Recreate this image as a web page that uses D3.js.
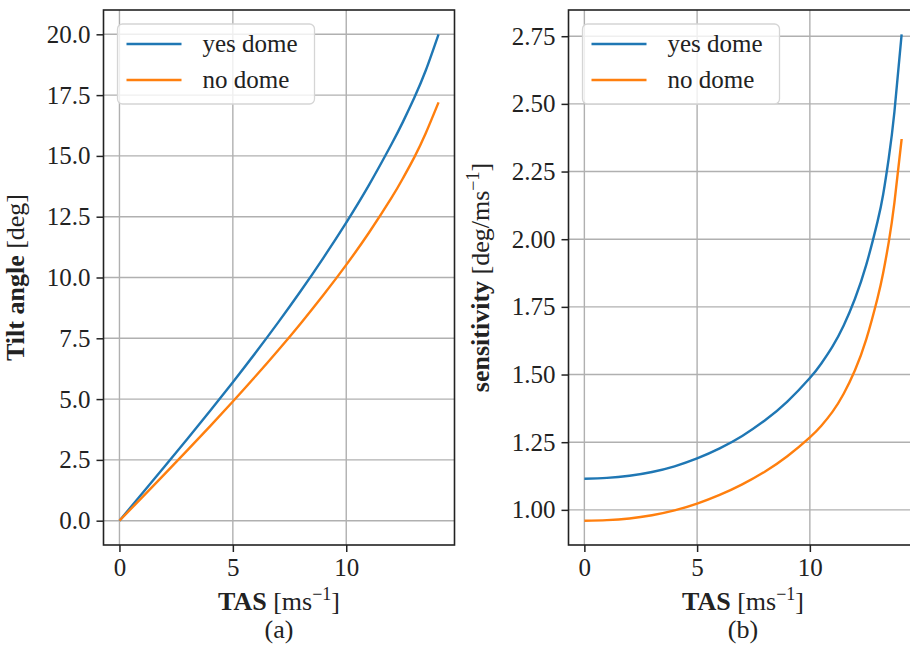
<!DOCTYPE html>
<html>
<head>
<meta charset="utf-8">
<script src="https://cdn.jsdelivr.net/npm/d3@7"></script>
<style>
  html, body { margin: 0; padding: 0; background: #fff; }
  svg { display: block; }
  text { font-family: "Liberation Serif", "DejaVu Serif", serif; fill: #222; }
</style>
</head>
<body>
<svg id="chart" width="910" height="648"></svg>
<script>
// ---------------- DATA ----------------
const seriesNames = ["yes dome", "no dome"];
const seriesColors = ["#1f77b4", "#ff7f0e"];

// (a) tilt angle vs TAS
const tasTilt = [0, 1, 2, 3, 4, 5, 6, 7, 8, 9, 10, 11, 12, 12.5, 13, 13.5, 14.07];
const tiltYesDome = [0, 1.116, 2.238, 3.371, 4.521, 5.696, 6.904, 8.154, 9.454, 10.82, 12.26, 13.80, 15.49, 16.40, 17.39, 18.50, 20.0];
const tiltNoDome  = [0, 0.961, 1.926, 2.90, 3.889, 4.899, 5.936, 7.008, 8.123, 9.29, 10.52, 11.84, 13.28, 14.08, 14.94, 15.92, 17.2];

// (b) sensitivity vs TAS
const tasSens = [0, 1, 2, 3, 4, 5, 6, 7, 8, 9, 10, 10.5, 11, 11.5, 12, 12.5, 13, 13.25, 13.5, 13.75, 14.07];
const sensYesDome = [1.115, 1.118, 1.126, 1.140, 1.161, 1.190, 1.227, 1.273, 1.330, 1.400, 1.487, 1.540, 1.603, 1.681, 1.780, 1.905, 2.065, 2.165, 2.30, 2.47, 2.757];
const sensNoDome  = [0.960, 0.962, 0.968, 0.980, 0.998, 1.023, 1.055, 1.094, 1.141, 1.198, 1.268, 1.310, 1.362, 1.429, 1.516, 1.630, 1.782, 1.875, 1.990, 2.135, 2.37];

const xTicks = [0, 5, 10];
const tiltTicks = [0, 2.5, 5, 7.5, 10, 12.5, 15, 17.5, 20];
const sensTicks = [1.0, 1.25, 1.5, 1.75, 2.0, 2.25, 2.5, 2.75];

// ---------------- DRAW ----------------
const svg = d3.select("#chart");
const FS = 25;

function padDomain(lo, hi) { const p = (hi - lo) * 0.05; return [lo - p, hi + p]; }

function panel(opts) {
  const { left, right, top, bottom, xs, ys, yTicks, yFmt, yLabelBold, yLabelRest, yLabelSup, yLabelEnd, yLabelX, caption } = opts;
  const xAll = xs.flat(), yAll = ys.flat();
  const x = d3.scaleLinear().domain(padDomain(d3.min(xAll), d3.max(xAll))).range([left, right]);
  const y = d3.scaleLinear().domain(padDomain(d3.min(yAll), d3.max(yAll))).range([bottom, top]);
  const g = svg.append("g");

  // grid
  g.append("g").selectAll("line").data(xTicks).join("line")
    .attr("x1", d => x(d)).attr("x2", d => x(d)).attr("y1", top).attr("y2", bottom)
    .attr("stroke", "#b0b0b0").attr("stroke-width", 1.4);
  g.append("g").selectAll("line").data(yTicks).join("line")
    .attr("x1", left).attr("x2", right).attr("y1", d => y(d)).attr("y2", d => y(d))
    .attr("stroke", "#b0b0b0").attr("stroke-width", 1.4);

  // lines
  const line = d3.line().x(d => x(d[0])).y(d => y(d[1])).curve(d3.curveNatural);
  xs.forEach((xv, i) => {
    g.append("path").datum(xv.map((v, k) => [v, ys[i][k]]))
      .attr("d", line).attr("fill", "none").attr("stroke", seriesColors[i]).attr("stroke-width", 2.4);
  });

  // axes
  const xAxis = d3.axisBottom(x).tickValues(xTicks).tickFormat(d3.format("d")).tickSize(7).tickPadding(6);
  const yAxis = d3.axisLeft(y).tickValues(yTicks).tickFormat(d3.format(yFmt)).tickSize(7).tickPadding(6);
  const gx = g.append("g").attr("transform", `translate(0,${bottom})`).call(xAxis);
  const gy = g.append("g").attr("transform", `translate(${left},0)`).call(yAxis);
  [gx, gy].forEach(a => {
    a.select(".domain").remove();
    a.selectAll(".tick line").attr("stroke", "#222").attr("stroke-width", 1.5);
    a.selectAll(".tick text").style("font-size", FS + "px").attr("fill", "#222")
      .style("font-family", '"Liberation Serif", serif');
  });

  // frame
  g.append("rect").attr("x", left).attr("y", top).attr("width", right - left).attr("height", bottom - top)
    .attr("fill", "none").attr("stroke", "#222").attr("stroke-width", 1.6);

  // x label
  const cx = (left + right) / 2;
  const xl = g.append("text").attr("x", cx).attr("y", 610).attr("text-anchor", "middle").style("font-size", "26px");
  xl.append("tspan").attr("font-weight", "bold").text("TAS");
  xl.append("tspan").text(" [ms");
  xl.append("tspan").attr("dy", -10).style("font-size", "18px").text("−1");
  xl.append("tspan").attr("dy", 10).text("]");
  g.append("text").attr("x", cx).attr("y", 638).attr("text-anchor", "middle").style("font-size", "26px").text(caption);

  // y label
  const cy = (top + bottom) / 2;
  const yl = g.append("text").attr("transform", `translate(${yLabelX},${cy}) rotate(-90)`)
    .attr("text-anchor", "middle").style("font-size", "26px");
  yl.append("tspan").attr("font-weight", "bold").text(yLabelBold);
  yl.append("tspan").text(yLabelRest);
  if (yLabelSup) {
    yl.append("tspan").attr("dy", -10).style("font-size", "18px").text(yLabelSup);
    yl.append("tspan").attr("dy", 10).text(yLabelEnd);
  }

  // legend
  const lx = left + 14, ly = top + 14, lw = 197, lh = 80;
  const lg = g.append("g");
  lg.append("rect").attr("x", lx).attr("y", ly).attr("width", lw).attr("height", lh).attr("rx", 5)
    .attr("fill", "white").attr("fill-opacity", 0.8).attr("stroke", "#d5d5d5").attr("stroke-width", 1.3);
  seriesNames.forEach((nm, i) => {
    const yy = ly + 20 + i * 36;
    lg.append("line").attr("x1", lx + 9).attr("x2", lx + 64).attr("y1", yy).attr("y2", yy)
      .attr("stroke", seriesColors[i]).attr("stroke-width", 2.4);
    lg.append("text").attr("x", lx + 85).attr("y", yy + 8).style("font-size", FS + "px").text(nm);
  });
}

panel({
  left: 103.5, right: 454.5, top: 10, bottom: 545,
  xs: [tasTilt, tasTilt], ys: [tiltYesDome, tiltNoDome],
  yTicks: tiltTicks, yFmt: ".1f",
  yLabelBold: "Tilt angle", yLabelRest: " [deg]", yLabelX: 24, caption: "(a)"
});
panel({
  left: 568.5, right: 917.5, top: 10, bottom: 545,
  xs: [tasSens, tasSens], ys: [sensYesDome, sensNoDome],
  yTicks: sensTicks, yFmt: ".2f",
  yLabelBold: "sensitivity", yLabelRest: " [deg/ms", yLabelSup: "−1", yLabelEnd: "]", yLabelX: 489, caption: "(b)"
});
</script>
</body>
</html>
